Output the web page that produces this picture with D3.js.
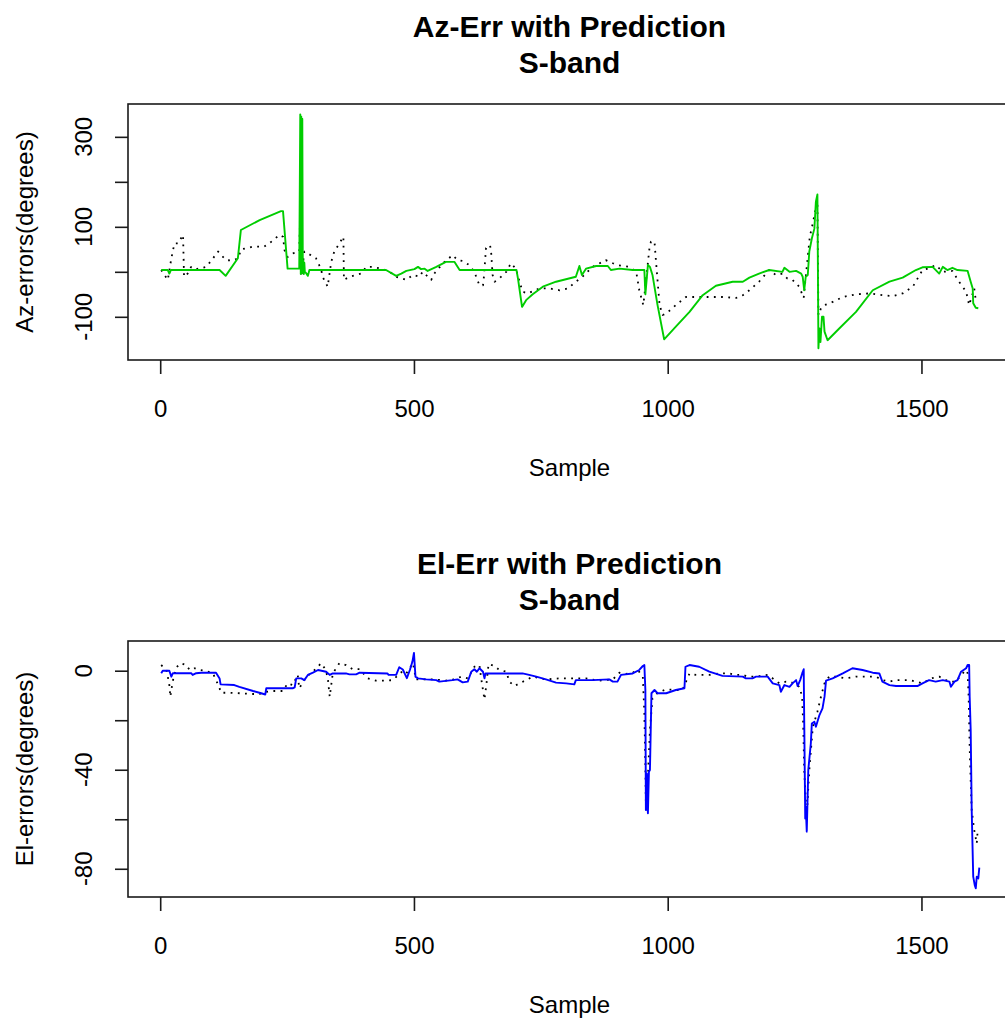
<!DOCTYPE html>
<html lang="en">
<head>
<meta charset="UTF-8">
<title>Az / El errors with prediction</title>
<script src="https://d3js.org/d3.v7.min.js"></script>
<style>
  body { margin: 0; background: #fff; }
  svg text { font-family: "Liberation Sans", Arial, sans-serif; fill: #000; }
  .title { font-size: 30px; font-weight: bold; }
  .tick-label, .axis-title { font-size: 24px; }
</style>
</head>
<body>
<script>

// ================== DATA ==================
// [sample, degrees] vertices
var nSamples = 1612;
var xTicks = [0, 500, 1000, 1500];

var azTicks = [-100, 0, 100, 200, 300];
var azLabelled = [-100, 100, 300];
var azDomain = [-196, 373];

var elTicks = [-80, -60, -40, -20, 0];
var elLabelled = [-80, -40, 0];
var elDomain = [-91.4, 12];

// measured azimuth error (green)
var azErr = [[2,4],[15,4],[18,-4],[21,4],[117,4],[129,-9],[153,30],[159,93],[196,115],[238,135],[242,135],
  [251,7],[274,7],[276,350],[277,-5],[278,345],[279,-3],[280,340],[281,0],[282,25],[283,-5],[284,20],[285,0],
  [287,-2],[291,-9],[294,4],[445,4],[465,-9],[475,-4],[485,2],[501,6],[508,11],[514,6],[521,7],[527,2],
  [544,11],[563,22],[580,22],[590,4],[702,4],[705,-15],[713,-78],[721,-63],[734,-50],[754,-33],[780,-22],
  [819,-11],[826,13],[831,-7],[839,7],[859,13],[882,13],[888,4],[905,7],[931,4],[954,4],[956,-50],[961,15],
  [965,11],[970,-7],[980,-74],[993,-150],[1016,-122],[1043,-89],[1069,-52],[1095,-31],[1128,-22],[1148,-22],
  [1161,-13],[1180,-4],[1200,4],[1226,0],[1230,9],[1240,0],[1253,2],[1263,-4],[1266,-11],[1269,-41],
  [1272,-11],[1276,-7],[1279,45],[1284,74],[1289,96],[1292,156],[1295,172],[1297,-170],[1299,-126],
  [1301,-156],[1304,-100],[1307,-100],[1309,-133],[1315,-152],[1338,-126],[1371,-89],[1404,-41],[1437,-22],
  [1463,-13],[1489,4],[1502,10],[1522,11],[1535,-4],[1542,11],[1551,4],[1561,9],[1571,4],[1591,2],
  [1597,-22],[1601,-37],[1602,-70],[1607,-80],[1612,-81]];

// predicted azimuth error (black dotted)
var azPred = [[2,4],[15,-18],[22,30],[28,63],[35,63],[45,82],[47,-11],[54,-4],[61,11],[71,6],[91,11],
  [104,30],[114,45],[120,37],[130,26],[143,25],[153,30],[160,50],[183,56],[205,56],[219,67],[235,82],
  [242,78],[245,48],[251,33],[261,41],[274,45],[278,222],[279,-4],[284,45],[297,37],[307,30],[317,6],
  [320,-11],[330,-33],[337,22],[343,45],[353,63],[361,78],[362,-18],[373,-11],[396,-4],[406,11],[419,11],
  [439,6],[452,0],[465,-11],[485,-18],[498,-7],[511,-11],[517,0],[534,-18],[540,-4],[557,19],[576,37],
  [586,26],[596,24],[609,15],[619,0],[629,-30],[636,-30],[638,-10],[642,53],[650,59],[652,45],[655,-7],
  [659,-22],[668,-15],[682,0],[691,19],[701,7],[708,-22],[714,-44],[724,-48],[747,-37],[767,-37],[787,-41],
  [803,-37],[819,-22],[832,-11],[852,11],[878,26],[892,19],[901,15],[924,11],[938,0],[944,-41],[952,-74],
  [957,-22],[964,52],[967,67],[974,67],[977,22],[984,-74],[990,-96],[997,-93],[1016,-74],[1036,-56],
  [1082,-56],[1108,-56],[1135,-58],[1148,-52],[1161,-41],[1180,-22],[1200,4],[1213,-7],[1226,-4],
  [1236,-15],[1246,-18],[1259,-33],[1268,-58],[1271,-22],[1276,33],[1280,78],[1286,108],[1291,137],
  [1295,148],[1297,-96],[1302,-81],[1309,-74],[1325,-67],[1345,-56],[1371,-50],[1397,-48],[1423,-52],
  [1443,-54],[1463,-48],[1483,-33],[1502,4],[1515,8],[1528,15],[1542,0],[1561,2],[1574,-22],[1588,-44],
  [1594,-74],[1604,-37],[1607,-63]];

// measured elevation error (blue)
var elErr = [[2,-1],[5,0],[12,0],[18,0],[22,-2.4],[25,-1],[61,-1],[64,-1.7],[71,-1],[81,-0.8],[110,-0.8],
  [117,-3.1],[119,-5.5],[146,-5.8],[156,-6.5],[183,-8.2],[199,-9.1],[207,-9.6],[209,-7.1],[261,-7.1],
  [265,-6.7],[268,-3.1],[278,-3.1],[284,-3.8],[291,-1.7],[301,-0.8],[311,0.3],[327,-0.4],[334,-1.7],
  [340,-1.1],[366,-1.1],[373,-1.5],[386,-1.5],[393,-0.8],[448,-1.1],[450,-1.7],[465,-1.7],[471,1.4],
  [478,0.5],[486,-3],[492,0.3],[497,3.7],[500,7.2],[503,-2.4],[508,-3.1],[524,-3.5],[544,-3.8],[550,-4.4],
  [576,-3.8],[586,-3.5],[596,-4.7],[606,-4.4],[613,-0.4],[619,0.6],[624,-0.4],[629,1],[636,-0.4],[639,-3.1],
  [641,-1.1],[714,-1.1],[727,-1.7],[741,-2.4],[760,-3.5],[780,-4.8],[800,-5.1],[816,-5.5],[819,-3.8],
  [852,-3.8],[885,-3.5],[892,-4.4],[901,-4.4],[908,-1.7],[931,-1.1],[944,0.3],[951,1.9],[954,2.3],[956,-7.8],
  [957,-56.3],[959,-41.5],[961,-57.6],[963,-40.8],[965,-40.1],[968,-9.1],[974,-7.8],[980,-9.1],[997,-9.1],
  [1016,-7.8],[1033,-7.1],[1035,1.6],[1043,2.3],[1062,1.6],[1082,-0.4],[1108,-2.1],[1148,-2.4],[1154,-3.1],
  [1167,-3.1],[1174,-2.4],[1197,-2.4],[1207,-5.1],[1220,-5.8],[1223,-8.5],[1230,-5.8],[1240,-6.5],
  [1246,-5.1],[1253,-3.8],[1256,-6.2],[1261,-3.8],[1265,-1.1],[1268,0.6],[1269,-19.9],[1271,-59.7],
  [1272,-54.9],[1274,-65],[1277,-40.1],[1282,-29.4],[1284,-21.3],[1289,-20.6],[1292,-22.6],[1299,-17.9],
  [1305,-15.2],[1309,-10.5],[1312,-4],[1325,-3.1],[1345,-1.1],[1364,1],[1384,0.3],[1404,-0.8],[1417,-1.1],
  [1423,-4.4],[1437,-5.8],[1450,-6.2],[1492,-6.2],[1502,-5.1],[1515,-3.8],[1528,-4.4],[1542,-3.8],
  [1555,-4.4],[1558,-6.5],[1565,-4.4],[1571,-3.8],[1578,-0.4],[1588,1],[1591,2.3],[1594,2.3],[1595,-10.5],
  [1597,-24],[1599,-56.3],[1602,-83.2],[1605,-86.6],[1607,-87.9],[1609,-83.2],[1612,-83.9],[1614,-79.5]];

// predicted elevation error (black dotted)
var elPred = [[2,2.3],[12,0.3],[15,-2.4],[18,-5.8],[20,-10.5],[24,-5.1],[26,-3.1],[32,1.4],[41,3],[51,2.3],
  [58,0.3],[68,1],[77,0.3],[91,-0.1],[104,-1.1],[110,-3.8],[116,-6.5],[120,-8.9],[137,-8.9],[156,-9.1],
  [179,-9.4],[196,-9.4],[209,-8.5],[222,-8.2],[242,-8.2],[251,-5.1],[261,-5.8],[271,-1.7],[274,-7.1],
  [278,-5.8],[288,-2.4],[301,-0.4],[317,3],[324,1],[330,-2.4],[334,-10.5],[340,-1.1],[353,3],[366,2.3],
  [379,0.6],[393,0.6],[409,-3.1],[425,-4],[445,-4],[458,-3.8],[478,-0.1],[485,-1.1],[498,3],[504,-3.5],
  [524,-3.5],[540,-3.5],[563,-4],[580,-3.5],[593,-2.4],[606,-3.1],[619,1.6],[629,2.3],[632,-2.4],[636,-7.8],
  [639,-11.6],[643,-5.1],[647,2.7],[659,1.9],[668,0.3],[682,-0.4],[688,-4.4],[698,-6.2],[708,-5.1],
  [721,-3.8],[734,-2.4],[760,-3.5],[787,-3.1],[813,-3.1],[839,-3.1],[865,-4],[892,-3.5],[905,-0.8],
  [918,-1.3],[931,-0.8],[941,0.3],[951,-2.4],[954,-17.2],[956,-37.4],[957,-53.6],[961,-42.8],[965,-24],
  [970,-11.2],[980,-8.9],[997,-7.5],[1016,-7.8],[1029,-7.8],[1043,-1.1],[1056,-1.7],[1082,-1.7],
  [1102,-1.1],[1121,-1.1],[1135,-1.7],[1148,-1.7],[1158,-2.4],[1174,-2.4],[1197,-1.7],[1207,-3.1],
  [1220,-5.1],[1233,-4.4],[1240,-4.4],[1249,-5.1],[1259,-6.5],[1263,-9.1],[1265,-11.8],[1267,-21.3],
  [1269,-40.1],[1271,-48.2],[1274,-59],[1276,-50.9],[1279,-40.1],[1286,-22.6],[1295,-16.6],[1302,-10.5],
  [1309,-5.1],[1318,-2.4],[1332,-2.4],[1351,-3.1],[1371,-2.4],[1410,-2.4],[1423,-3.8],[1437,-4.4],
  [1450,-3.8],[1476,-3.8],[1489,-4.4],[1502,-5.1],[1519,-3.1],[1535,-2.4],[1555,-4.4],[1568,-4.4],
  [1578,-1.7],[1588,0.3],[1591,-1.1],[1593,-10.5],[1595,-30.7],[1597,-44.2],[1599,-56.3],[1604,-64.4],
  [1609,-69.8],[1611,-63.7]];

// ================== SVG ==================
var W = 1005, H = 1019;
var svg = d3.select("body").append("svg")
    .attr("width", W)
    .attr("height", H);

// R-style 4% padding on the sample axis
var pad = (nSamples - 1) * 0.04;
var x = d3.scaleLinear()
    .domain([1 - pad, nSamples + pad])
    .range([128, 1011]);

var fmt = function(d){ return String(d); };   // keep ascii hyphen

function drawPanel(p){
    var top = p.top, bottom = p.top + 256;
    var y = d3.scaleLinear().domain(p.domain).range([bottom, top]);
    var g = svg.append("g");

    // titles
    g.append("text").classed("title", true)
        .attr("x", 569.5).attr("y", top - 67)
        .attr("text-anchor", "middle").text(p.title);
    g.append("text").classed("title", true)
        .attr("x", 569.5).attr("y", top - 31)
        .attr("text-anchor", "middle").text("S-band");

    // series
    var line = d3.line()
        .x(function(d){ return x(d[0]); })
        .y(function(d){ return y(d[1]); });

    g.append("path").datum(p.pred)
        .attr("d", line)
        .attr("fill", "none")
        .attr("stroke", "#000")
        .attr("stroke-width", 1.8)
        .attr("stroke-dasharray", "1.8,5.4")
        .attr("stroke-linejoin", "round");
    g.append("path").datum(p.meas)
        .attr("d", line)
        .attr("fill", "none")
        .attr("stroke", p.color)
        .attr("stroke-width", 1.9)
        .attr("stroke-linejoin", "round");

    // box
    g.append("rect")
        .attr("x", 128).attr("y", top)
        .attr("width", 1011 - 128).attr("height", 256)
        .attr("fill", "none")
        .attr("stroke", "#1a1a1a")
        .attr("stroke-width", 1.6);

    // x axis
    var xAxis = d3.axisBottom(x).tickValues(xTicks).tickSize(14).tickPadding(5).tickFormat(fmt);
    var gx = g.append("g")
        .attr("transform", "translate(0," + bottom + ")")
        .call(xAxis);
    gx.select(".domain").remove();
    gx.selectAll("line").attr("stroke", "#1a1a1a").attr("stroke-width", 1.6);
    gx.selectAll("text").classed("tick-label", true)
        .attr("font-size", null).attr("font-family", null)
        .attr("dy", null).attr("y", 57);

    // y axis (ticks only, labels rotated as in R)
    var yAxis = d3.axisLeft(y).tickValues(p.ticks).tickSize(13).tickFormat("");
    var gy = g.append("g")
        .attr("transform", "translate(128,0)")
        .call(yAxis);
    gy.select(".domain").remove();
    gy.selectAll("line").attr("stroke", "#1a1a1a").attr("stroke-width", 1.6);

    g.selectAll(".ylab")
        .data(p.labelled)
        .enter().append("text")
        .classed("tick-label", true)
        .attr("text-anchor", "middle")
        .attr("transform", function(d){ return "translate(92," + y(d) + ") rotate(-90)"; })
        .text(fmt);

    // axis titles
    g.append("text").classed("axis-title", true)
        .attr("text-anchor", "middle")
        .attr("x", 569.5).attr("y", bottom + 116)
        .text("Sample");
    g.append("text").classed("axis-title", true)
        .attr("text-anchor", "middle")
        .attr("transform", "translate(33," + (top + 128) + ") rotate(-90)")
        .text(p.ylabel);
}

drawPanel({
    top: 104,
    domain: azDomain,
    ticks: azTicks,
    labelled: azLabelled,
    title: "Az-Err with Prediction",
    ylabel: "Az-errors(degrees)",
    meas: azErr,
    pred: azPred,
    color: "#00cd00"
});

drawPanel({
    top: 641,
    domain: elDomain,
    ticks: elTicks,
    labelled: elLabelled,
    title: "El-Err with Prediction",
    ylabel: "El-errors(degrees)",
    meas: elErr,
    pred: elPred,
    color: "#0000ff"
});

</script>
</body>
</html>
